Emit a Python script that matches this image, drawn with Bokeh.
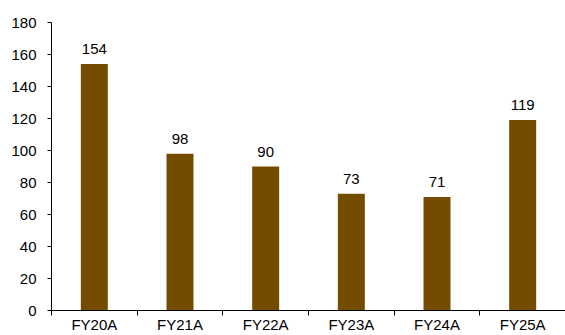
from bokeh.plotting import figure
from bokeh.models import Range1d, FixedTicker, ColumnDataSource
from bokeh.core.properties import value
from bokeh.embed import file_html
from bokeh.resources import INLINE

categories = ["FY20A", "FY21A", "FY22A", "FY23A", "FY24A", "FY25A"]
values = [154, 98, 90, 73, 71, 119]
y_ticks = [0, 20, 40, 60, 80, 100, 120, 140, 160, 180]

centers = [i + 0.5 for i in range(len(categories))]
bounds = [float(i) for i in range(len(categories) + 1)]

src = ColumnDataSource(dict(x=centers, top=values, label=[str(v) for v in values]))

FONT = "Liberation Sans"
BAR = "#744C00"

p = figure(width=565, height=335, output_backend="svg", toolbar_location=None,
           x_range=Range1d(0, len(categories)), y_range=Range1d(0, 180),
           min_border_left=51, min_border_right=0, min_border_top=22, min_border_bottom=20)
p.outline_line_color = None
p.grid.visible = False
p.background_fill_color = "white"
p.border_fill_color = "white"

p.vbar(x="x", top="top", width=0.315, source=src, fill_color=BAR, line_color=None)
p.text(x="x", y="top", text="label", source=src, text_align="center",
       text_baseline="alphabetic", y_offset=-15, text_font=value(FONT),
       text_font_size="15px", text_color="#000000")

xa = p.xaxis[0]
xa.ticker = FixedTicker(ticks=centers, minor_ticks=bounds)
xa.major_label_overrides = {c: n for c, n in zip(centers, categories)}
xa.major_tick_out = 0
xa.major_tick_in = 0
xa.minor_tick_out = 5
xa.minor_tick_in = 0
xa.minor_tick_line_color = "black"
xa.axis_line_color = "black"
xa.major_label_standoff = 0
xa.major_label_text_font = FONT
xa.major_label_text_font_size = "15px"
xa.major_label_text_color = "#000000"

ya = p.yaxis[0]
ya.ticker = FixedTicker(ticks=y_ticks)
ya.major_tick_out = 4
ya.major_tick_in = 0
ya.minor_tick_out = 0
ya.minor_tick_in = 0
ya.axis_line_color = "black"
ya.major_tick_line_color = "black"
ya.major_label_standoff = 11
ya.major_label_text_font = FONT
ya.major_label_text_font_size = "15px"
ya.major_label_text_color = "#000000"

open("out.html", "w").write(file_html(p, INLINE))
